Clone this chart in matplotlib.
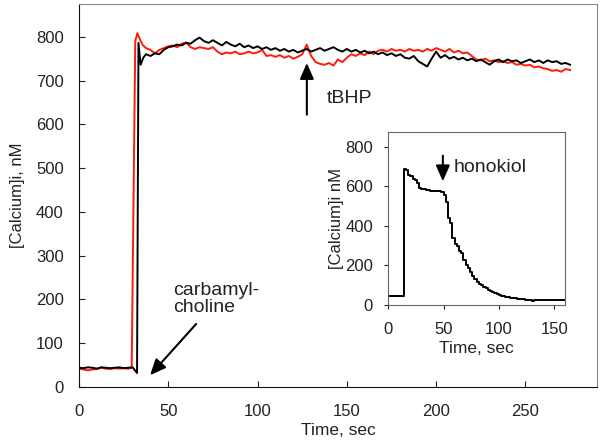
import numpy as np
import matplotlib.pyplot as plt

plt.rcParams['font.family'] = ['Liberation Sans', 'DejaVu Sans']

# main trace, black (control)
t_black = [0, 2.5, 5, 7.5, 10, 12.5, 15, 17.5, 20, 22.5, 25, 27.5, 30, 32.5,
           33.3, 34.5, 36, 37.5, 40, 42.5, 45, 47.5, 50, 52.5, 55, 57.5, 60, 62.5,
           65, 67.5, 70, 72.5, 75, 77.5, 80, 82.5, 85, 87.5, 90, 92.5, 95, 97.5,
           100, 102.5, 105, 107.5, 110, 112.5, 115, 117.5, 120, 122.5, 125, 127.5,
           130, 132.5, 135, 137.5, 140, 142.5, 145, 147.5, 150, 152.5, 155, 157.5,
           160, 162.5, 165, 167.5, 170, 172.5, 175, 177.5, 180, 182.5, 185, 187.5,
           190, 192.5, 195, 197.5, 200, 202.5, 205, 207.5, 210, 212.5, 215, 217.5,
           220, 222.5, 225, 227.5, 230, 232.5, 235, 237.5, 240, 242.5, 245, 247.5,
           250, 252.5, 255, 257.5, 260, 262.5, 265, 267.5, 270, 272.5, 275]
ca_black = [44, 43, 45, 44, 42, 45, 44, 43, 44, 45, 43, 44, 45, 32,
            786, 736, 752, 760, 756, 762, 760, 770, 776, 778, 782, 780, 786, 784,
            792, 798, 790, 786, 792, 786, 780, 788, 782, 778, 784, 776, 780, 774,
            778, 772, 776, 770, 774, 768, 772, 766, 770, 764, 768, 772,
            766, 770, 774, 768, 772, 776, 770, 766, 772, 766, 770, 764,
            768, 762, 766, 760, 764, 758, 762, 756, 760, 752, 750, 756,
            744, 738, 732, 750, 766, 752, 758, 750, 754, 748, 752, 746,
            750, 744, 748, 742, 736, 744, 748, 742, 748, 744, 746, 740,
            744, 748, 742, 746, 740, 746, 742, 744, 738, 740, 736]

# main trace, red (tBHP)
t_red = [0, 2.5, 5, 7.5, 10, 12.5, 15, 17.5, 20, 22.5, 25, 27.5, 29.5,
         31.5, 32.7, 34, 35.5, 37.5, 40, 42.5, 45, 47.5, 50, 52.5, 55, 57.5, 60,
         62.5, 65, 67.5, 70, 72.5, 75, 77.5, 80, 82.5, 85, 87.5, 90, 92.5, 95,
         97.5, 100, 102.5, 105, 107.5, 110, 112.5, 115, 117.5, 120, 122.5, 125,
         127.5, 130, 132.5, 135, 137.5, 140, 142.5, 145, 147.5, 150, 152.5, 155,
         157.5, 160, 162.5, 165, 167.5, 170, 172.5, 175, 177.5, 180, 182.5, 185,
         187.5, 190, 192.5, 195, 197.5, 200, 202.5, 205, 207.5, 210, 212.5, 215,
         217.5, 220, 222.5, 225, 227.5, 230, 232.5, 235, 237.5, 240, 242.5, 245,
         247.5, 250, 252.5, 255, 257.5, 260, 262.5, 265, 267.5, 270, 272.5, 275]
ca_red = [42, 40, 38, 40, 41, 44, 42, 41, 43, 42, 43, 42, 44,
          790, 808, 795, 782, 774, 770, 762, 770, 774, 778, 780, 776, 784, 787,
          776, 772, 776, 774, 772, 776, 766, 760, 764, 762, 766, 760, 762, 766,
          762, 764, 770, 756, 758, 754, 758, 752, 756, 750, 754, 760,
          782, 756, 742, 738, 736, 740, 734, 748, 742, 752, 760, 756,
          762, 758, 766, 760, 768, 770, 766, 772, 768, 770, 766, 772,
          768, 770, 766, 772, 768, 774, 770, 766, 772, 764, 768, 762,
          764, 756, 748, 746, 750, 744, 746, 742, 744, 740, 742, 736,
          738, 734, 736, 730, 732, 728, 726, 722, 724, 720, 726, 724]

# inset trace (honokiol)
t_ins = list(range(0, 162, 2))
ca_ins = [45, 44, 45, 43, 44, 45, 45, 687, 680, 655, 650, 638, 630, 615,
          592, 586, 584, 582, 580, 578, 576, 574, 577, 574, 572, 555, 520, 440,
          415, 340, 310, 298, 275, 262, 230, 200, 185, 165, 148, 130, 118, 108,
          100, 92, 85, 78, 70, 65, 60, 55, 50, 46, 43, 41, 38, 36, 34, 33,
          31, 30, 29, 28, 27, 26, 26, 22, 25, 25, 25, 24, 25, 25, 26, 25,
          25, 24, 25, 25, 26, 25, 26]

TXT = '#222222'
ARROW = dict(arrowstyle='-|>,head_length=0.8,head_width=0.35',
             color='black', lw=1.5, mutation_scale=12, shrinkA=0, shrinkB=0)

fig = plt.figure(figsize=(6, 4.45), dpi=100)
ax = fig.add_axes([0.1317, 0.1303, 0.863, 0.861])
ax.plot(t_black, ca_black, color='black', lw=1.4, zorder=3)
ax.plot(t_red, ca_red, color='#ff1a0a', lw=1.4, zorder=2)
ax.set_xlim(0, 290)
ax.set_ylim(0, 875)
ax.set_xticks(np.arange(0, 251, 50))
ax.set_yticks(np.arange(0, 801, 100))
ax.tick_params(direction='in', length=4, labelsize=12, colors=TXT)
ax.tick_params(axis='x', pad=12)
ax.tick_params(axis='y', pad=11)
ax.set_xlabel('Time, sec', fontsize=12.5, color=TXT, labelpad=3)
ax.set_ylabel('[Calcium]i, nM', fontsize=12, color=TXT, labelpad=8)
for side in ['top', 'right']:
    ax.spines[side].set_color('#888888')
for side in ['left', 'bottom']:
    ax.spines[side].set_color('#111111')

ax.annotate('', xy=(127.6, 740), xytext=(127.6, 622), arrowprops=ARROW)
ax.text(139, 658, 'tBHP', fontsize=14, va='center', ha='left', color=TXT)
ax.annotate('', xy=(39.8, 27), xytext=(65.6, 144), arrowprops=ARROW)
ax.text(52.5, 201, 'carbamyl-\ncholine', fontsize=14, va='center', ha='left',
        color=TXT, linespacing=1.0)

ins = fig.add_axes([0.647, 0.3146, 0.295, 0.389])
ins.plot(t_ins, ca_ins, color='black', lw=1.4, drawstyle='steps-post')
ins.set_xlim(0, 160)
ins.set_ylim(0, 875)
ins.set_xticks([0, 50, 100, 150])
ins.set_yticks([0, 200, 400, 600, 800])
ins.tick_params(direction='out', length=3, labelsize=12, colors=TXT)
ins.tick_params(axis='x', pad=9)
ins.tick_params(axis='y', pad=8)
ins.set_xlabel('Time, sec', fontsize=12.5, color=TXT, labelpad=3)
ins.set_ylabel('[Calcium]i nM', fontsize=12, color=TXT, labelpad=1)
for side in ins.spines:
    ins.spines[side].set_color('#666666')
ins.annotate('', xy=(49.4, 625), xytext=(49.4, 755), arrowprops=ARROW)
ins.text(59, 697, 'honokiol', fontsize=14, va='center', ha='left', color=TXT)

fig.savefig('out.png', dpi=100)
